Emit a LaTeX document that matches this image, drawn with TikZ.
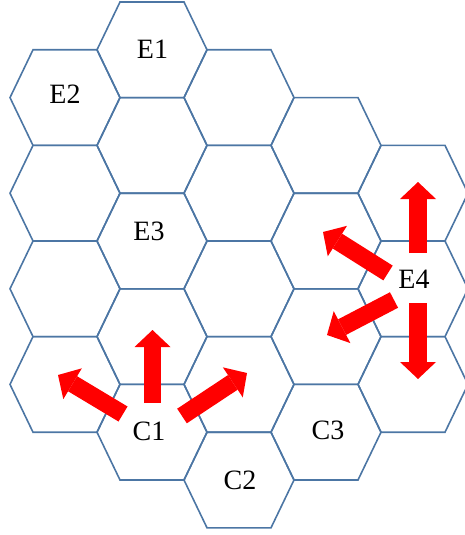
\documentclass[tikz,border=0pt]{standalone}
\usepackage{fontspec}
\setmainfont{Liberation Serif}
\usetikzlibrary{arrows.meta}

\definecolor{gridblue}{RGB}{76,118,164}
\definecolor{arrowred}{RGB}{255,0,0}

% one flat-topped cell of the grid, centred at (#1,#2)
\newcommand{\hexcell}[2]{%
  \draw[cellline, shift={(#1,#2)}]
    (-55,0) -- (-32,-47.8) -- (32,-47.8) -- (55,0) -- (32,47.8) -- (-32,47.8) -- cycle;}

\begin{document}
\begin{tikzpicture}[x=1pt, y=-1pt,
  cellline/.style={draw=gridblue, line width=1.6pt, line join=miter},
  blockarrow/.style={draw=arrowred, line width=17.5pt,
    -{Triangle[width=36pt, length=17pt, line width=0pt]}},
  celllabel/.style={inner sep=0pt, font=\fontsize{28}{28}\selectfont}]

\useasboundingbox (0,0) rectangle (464,535);

% column 0
\hexcell{65}{97.6}
\hexcell{65}{193.2}
\hexcell{65}{288.8}
\hexcell{65}{384.4}
% column 1
\hexcell{152}{49.8}
\hexcell{152}{145.4}
\hexcell{152}{241}
\hexcell{152}{336.6}
\hexcell{152}{432.2}
% column 2
\hexcell{239}{97.6}
\hexcell{239}{193.2}
\hexcell{239}{288.8}
\hexcell{239}{384.4}
\hexcell{239}{480}
% column 3
\hexcell{326}{145.4}
\hexcell{326}{241}
\hexcell{326}{336.6}
\hexcell{326}{432.2}
% column 4
\hexcell{413}{193.2}
\hexcell{413}{288.8}
\hexcell{413}{384.4}

% arrow ends around C1
\coordinate (c1upT)    at (152.5,403);
\coordinate (c1upH)    at (152.5,330);
\coordinate (c1leftT)  at (123,414);
\coordinate (c1leftH)  at (58,375);
\coordinate (c1rightT) at (182,416);
\coordinate (c1rightH) at (247,373);
% arrow ends around E4
\coordinate (e4upT)    at (418,253);
\coordinate (e4upH)    at (418,182);
\coordinate (e4downT)  at (418,303);
\coordinate (e4downH)  at (418,379);
\coordinate (e4ulT)    at (388,273);
\coordinate (e4ulH)    at (323,232);
\coordinate (e4dlT)    at (394,300);
\coordinate (e4dlH)    at (327,335);

\draw[blockarrow] (c1upT) -- (c1upH);
\draw[blockarrow] (c1leftT) -- (c1leftH);
\draw[blockarrow] (c1rightT) -- (c1rightH);
\draw[blockarrow] (e4upT) -- (e4upH);
\draw[blockarrow] (e4downT) -- (e4downH);
\draw[blockarrow] (e4ulT) -- (e4ulH);
\draw[blockarrow] (e4dlT) -- (e4dlH);

% cell labels
\node[celllabel] (e1) at (152.5,49) {E1};
\node[celllabel] (e2) at (65,94) {E2};
\node[celllabel] (e3) at (149,231) {E3};
\node[celllabel] (e4) at (414,279) {E4};
\node[celllabel] (c1) at (149,431) {C1};
\node[celllabel] (c2) at (240,480) {C2};
\node[celllabel] (c3) at (328,430) {C3};
\end{tikzpicture}
\end{document}
